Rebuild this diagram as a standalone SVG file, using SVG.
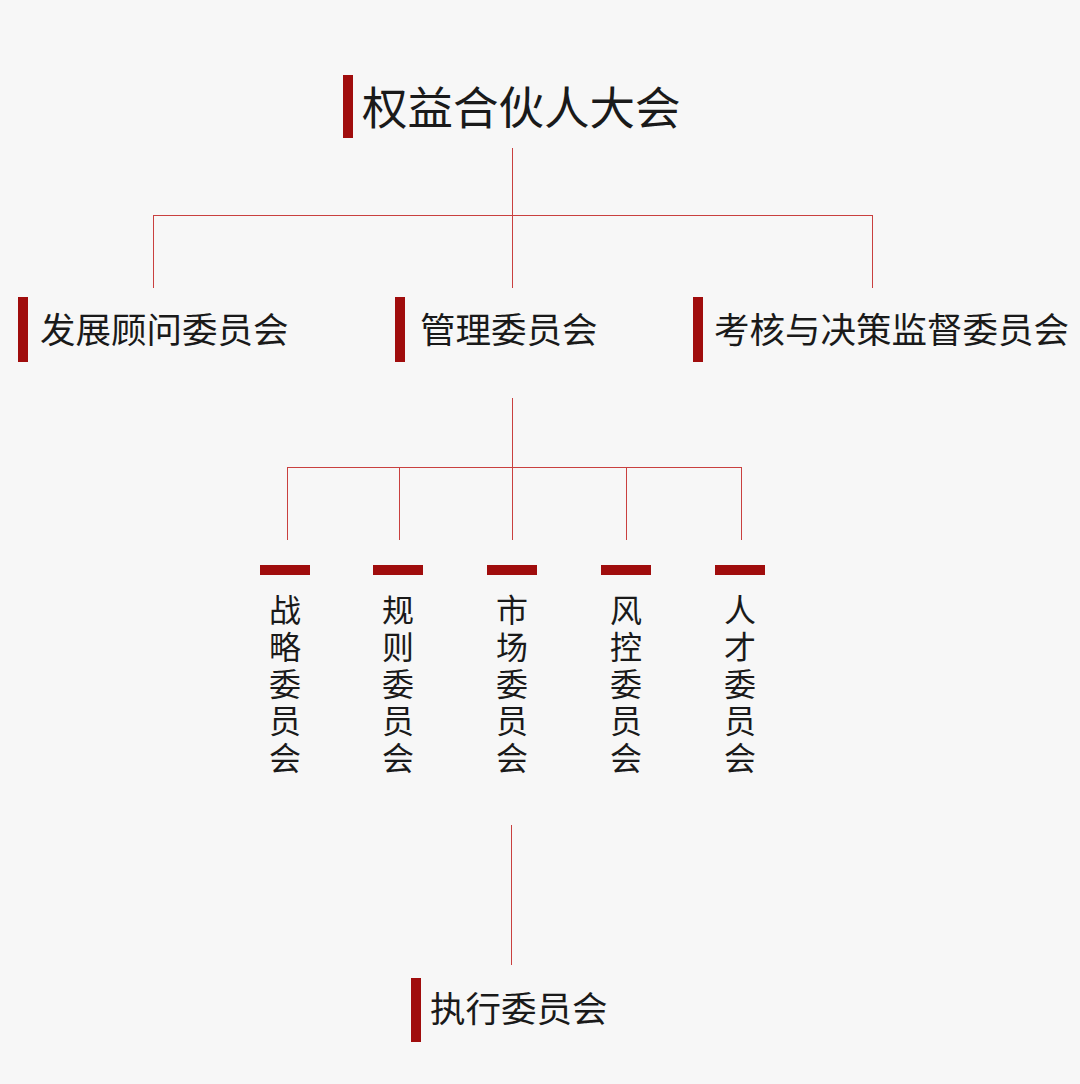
<svg xmlns="http://www.w3.org/2000/svg" width="1080" height="1084" viewBox="0 0 1080 1084">
<style>
.bar{fill:#a00d0d}
.t{font-family:"Noto Sans CJK SC","Noto Sans",sans-serif;fill:#1a1a1a;font-size:35.5px}
.v{font-family:"Noto Sans CJK SC","Noto Sans",sans-serif;fill:#1a1a1a;font-size:32px;text-anchor:middle}
.ln{stroke:#c9403f;stroke-width:1;fill:none}
</style>
<rect width="1080" height="1084" fill="#f7f7f7"/>
<g id="connectors" class="ln">
<path d="M512.5 148V288M153.5 215.5H872.5M153.5 215V288M872.5 215V288"/>
<path d="M512.5 398V540M287.5 467.5H741.5M287.5 467V540M399.5 467V540M626.5 467V540M741.5 467V540"/>
<path d="M511.5 825V965"/>
</g>
<g id="top"><rect class="bar" x="343" y="75" width="10" height="63"/><text class="t" x="362" y="125" style="font-size:45.5px">权益合伙人大会</text></g>
<g id="n1"><rect class="bar" x="18" y="297" width="10" height="65"/><text class="t" x="40" y="343">发展顾问委员会</text></g>
<g id="n2"><rect class="bar" x="395" y="297" width="10" height="65"/><text class="t" x="420" y="343">管理委员会</text></g>
<g id="n3"><rect class="bar" x="693" y="297" width="10" height="65"/><text class="t" x="714" y="343">考核与决策监督委员会</text></g>
<g id="c1"><rect class="bar" x="260" y="565" width="50" height="10"/><text class="v" x="285" y="622">战</text><text class="v" x="285" y="659">略</text><text class="v" x="285" y="696">委</text><text class="v" x="285" y="733">员</text><text class="v" x="285" y="770">会</text></g>
<g id="c2"><rect class="bar" x="373" y="565" width="50" height="10"/><text class="v" x="398" y="622">规</text><text class="v" x="398" y="659">则</text><text class="v" x="398" y="696">委</text><text class="v" x="398" y="733">员</text><text class="v" x="398" y="770">会</text></g>
<g id="c3"><rect class="bar" x="487" y="565" width="50" height="10"/><text class="v" x="512" y="622">市</text><text class="v" x="512" y="659">场</text><text class="v" x="512" y="696">委</text><text class="v" x="512" y="733">员</text><text class="v" x="512" y="770">会</text></g>
<g id="c4"><rect class="bar" x="601" y="565" width="50" height="10"/><text class="v" x="626" y="622">风</text><text class="v" x="626" y="659">控</text><text class="v" x="626" y="696">委</text><text class="v" x="626" y="733">员</text><text class="v" x="626" y="770">会</text></g>
<g id="c5"><rect class="bar" x="715" y="565" width="50" height="10"/><text class="v" x="740" y="622">人</text><text class="v" x="740" y="659">才</text><text class="v" x="740" y="696">委</text><text class="v" x="740" y="733">员</text><text class="v" x="740" y="770">会</text></g>
<g id="exec"><rect class="bar" x="411" y="978" width="10" height="64"/><text class="t" x="430" y="1022">执行委员会</text></g>
</svg>
